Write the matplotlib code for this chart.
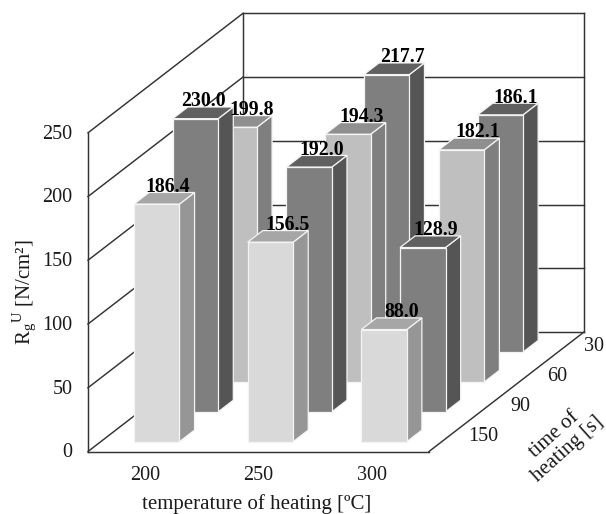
# plot.py - oblique 3D style bar chart, drawn on a plain 2D axes

import numpy as np
import matplotlib
matplotlib.use("Agg")
import matplotlib.pyplot as plt
from matplotlib.patches import Polygon

plt.rcParams["font.family"] = ["Liberation Serif", "DejaVu Serif"]
plt.rcParams["mathtext.fontset"] = "custom"
plt.rcParams["mathtext.rm"] = "Liberation Serif"

temperatures = ["200", "250", "300"]
times = ["150", "90", "60", "30"]
values_150 = [186.4, 156.5, 88.0]
values_90 = [230.0, 192.0, 128.9]
values_60 = [199.8, 194.3, 182.1]
values_30 = [np.nan, 217.7, 186.1]
y_ticks = [0, 50, 100, 150, 200, 250]

# layout, in figure pixels and axis units
W, H = 606, 514
LEFT, RIGHT, BOTTOM, TOP = 88, 429, 451.5, 132.8
DEPTH_DX = 155 / 4 / ((RIGHT - LEFT) / 3)   # x units per time category
DEPTH_DY = 119.5 / 4 / ((BOTTOM - TOP) / 250)  # y units per time category
BAR_W = 0.4
BAR_D = 0.39
BAR_GAP = 0.327
BAR_START = 0.293

# face colours per series: front, side, top
colours = [
    ("#d9d9d9", "#969696", "#a6a6a6"),
    ("#7f7f7f", "#555555", "#606060"),
    ("#bfbfbf", "#7f7f7f", "#8f8f8f"),
    ("#7f7f7f", "#555555", "#606060"),
]
# small hand shifts of the data labels, pixels from the front face centre
label_dx = [[10, 16, 17], [7, 12, 12], [17, 13, 15], [0, 15, 15]]
LINE = "#333333"


def shift(x, y, d):
    return x + d * DEPTH_DX, y + d * DEPTH_DY


def box(ax, x0, d0, v, cols, z):
    x1, d1 = x0 + BAR_W, d0 + BAR_D
    faces = [
        ([(x1, 0, d0), (x1, 0, d1), (x1, v, d1), (x1, v, d0)], cols[1]),
        ([(x0, v, d0), (x1, v, d0), (x1, v, d1), (x0, v, d1)], cols[2]),
        ([(x0, 0, d0), (x1, 0, d0), (x1, v, d0), (x0, v, d0)], cols[0]),
    ]
    for pts, c in faces:
        xy = [shift(*p) for p in pts]
        ax.add_patch(Polygon(xy, closed=True, facecolor=c, edgecolor="#f4f4f4",
                             linewidth=0.9, clip_on=False, zorder=z, joinstyle="miter"))


def line(ax, a, b):
    xa, ya = shift(*a)
    xb, yb = shift(*b)
    ax.plot([xa, xb], [ya, yb], color=LINE, lw=1.05, clip_on=False, zorder=1,
            solid_capstyle="projecting")


fig = plt.figure(figsize=(W / 100, H / 100), dpi=100, facecolor="white")
ax = fig.add_axes([LEFT / W, 1 - BOTTOM / H, (RIGHT - LEFT) / W, (BOTTOM - TOP) / H])
ax.set_xlim(0, len(temperatures))
ax.set_ylim(0, y_ticks[-1])
ax.axis("off")

n_t = len(temperatures)
n_d = len(times)

# walls and gridlines
for v in y_ticks:
    line(ax, (0, v, 0), (0, v, n_d))
    line(ax, (0, v, n_d), (n_t, v, n_d))
line(ax, (0, 0, 0), (0, y_ticks[-1], 0))
line(ax, (0, 0, n_d), (0, y_ticks[-1], n_d))
line(ax, (n_t, 0, n_d), (n_t, y_ticks[-1], n_d))
line(ax, (0, 0, 0), (n_t, 0, 0))
line(ax, (n_t, 0, 0), (n_t, 0, n_d))

# bars, back row first
series = [values_150, values_90, values_60, values_30]
for d in range(n_d - 1, -1, -1):
    for t in range(n_t):
        v = series[d][t]
        if np.isnan(v):
            continue
        x0 = t + BAR_START
        box(ax, x0, d + BAR_GAP, v, colours[d], 10 + (n_d - d) * 10 + t)
        lx, ly = shift(x0 + BAR_W / 2, v, d + BAR_GAP)
        ax.annotate(f"{v:.1f}", (lx, ly), xytext=(label_dx[d][t] * 0.72 + 0.5, 12.5),
                    textcoords="offset points", ha="center", va="center",
                    fontsize=14.2, fontweight="bold", color="black",
                    annotation_clip=False, zorder=100)

# tick labels
FS = 14.5
for v in y_ticks:
    ax.annotate(str(v), (0, v), xytext=(-11, -1), textcoords="offset points",
                ha="right", va="center", fontsize=FS, color="#1a1a1a", annotation_clip=False)
for t, lab in enumerate(temperatures):
    ax.annotate(lab, (t + 0.5, 0), xytext=(0, -17.5), textcoords="offset points",
                ha="center", va="center", fontsize=FS, color="#1a1a1a", annotation_clip=False)
for d, lab in enumerate(times):
    xd, yd = shift(n_t, 0, d + 0.5)
    ax.annotate(lab, (xd, yd), xytext=(25 - 1.2 * d, 0), textcoords="offset points",
                ha="center", va="center", fontsize=FS, color="#1a1a1a", annotation_clip=False)

# axis titles
TS = 15
fig.text(257 / W, 1 - 504 / H, "temperature of heating [ºC]", ha="center", va="center",
         fontsize=TS, color="#1a1a1a")
fig.text(25 / W, 1 - 292 / H, r"$\mathrm{R_g}^{\mathrm{U}}$ [N/cm²]", rotation=90,
         ha="center", va="center", fontsize=TS, color="#1a1a1a")
fig.text(561 / W, 1 - 442 / H, "time of\nheating [s]", rotation=42, rotation_mode="anchor",
         ha="center", va="center", fontsize=TS, color="#1a1a1a", linespacing=1.05)

fig.savefig("out.png", dpi=100)
